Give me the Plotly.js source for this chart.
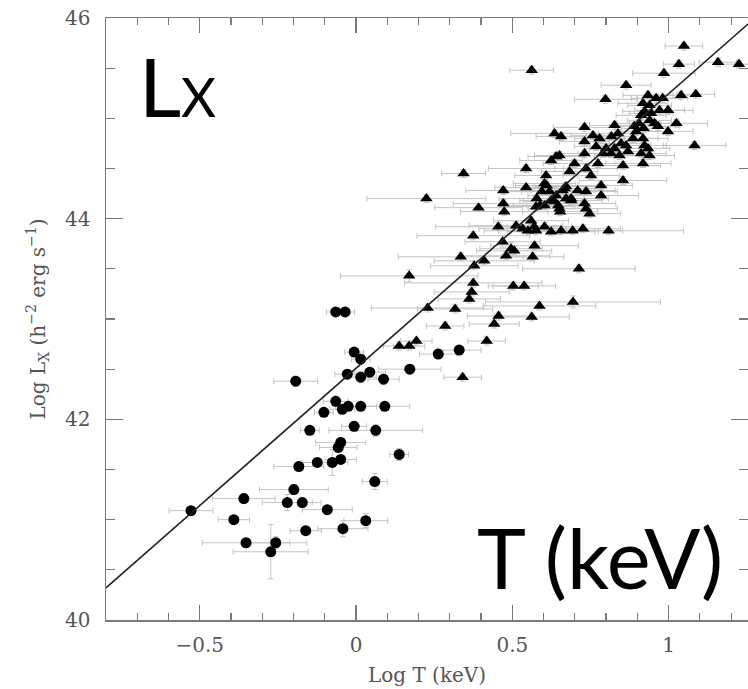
<!DOCTYPE html>
<html>
<head>
<meta charset="utf-8">
<script src="https://cdn.plot.ly/plotly-3.0.1.min.js"></script>
<style>html,body{margin:0;padding:0;background:#fff;}#chart{width:748px;height:689px;}</style>
</head>
<body>
<div id="chart"></div>
<script>
// ---- data ----
// Groups (circles): log T, log Lx, errors
var grpT  = [-0.528,-0.359,-0.391,-0.352,-0.273,-0.257,-0.220,-0.172,-0.199,-0.161,-0.183,-0.124,-0.148,-0.092,-0.076,-0.049,-0.049,-0.057,-0.042,0.031,0.060,0.138,-0.006,0.063,-0.103,-0.065,-0.044,-0.025,0.015,0.092,-0.193,-0.028,0.015,0.044,0.088,0.172,-0.006,0.015,0.263,0.330,-0.065,-0.035];
var grpL  = [41.09,41.21,41.00,40.77,40.68,40.77,41.17,41.17,41.30,40.89,41.53,41.57,41.89,41.10,41.57,41.60,41.77,41.72,40.91,40.99,41.38,41.65,41.93,41.89,42.07,42.18,42.10,42.13,42.13,42.13,42.38,42.45,42.42,42.47,42.40,42.50,42.67,42.60,42.65,42.69,43.07,43.07];
var grpTerr = [0.07,0.10,0.05,0.14,0.12,0.10,0.08,0.06,0.11,0.05,0.08,0.05,0.03,0.08,0.05,0.05,0.08,0.06,0.08,0.07,0.04,0.03,0.04,0.15,0.03,0.04,0.04,0.04,0.05,0.08,0.07,0.04,0.05,0.05,0.05,0.10,0.03,0.03,0.06,0.07,0.03,0.03];
var grpLerr = [0.04,0.05,0.04,0.04,0.27,0.06,0.08,0.05,0.05,0.04,0.04,0.04,0.03,0.04,0.13,0.04,0.05,0.05,0.08,0.07,0.08,0.06,0.05,0.06,0.04,0.05,0.04,0.04,0.04,0.04,0.05,0.04,0.05,0.04,0.05,0.04,0.04,0.04,0.04,0.04,0.03,0.03];

// Clusters (triangles): log T, log Lx, errors
var clT = [1.049,0.562,1.033,1.158,1.225,0.985,0.864,0.798,1.040,1.087,0.934,0.960,0.981,0.918,0.939,0.923,0.912,0.944,0.971,0.998,0.939,0.955,0.966,1.025,0.998,1.083,0.827,0.838,0.817,0.731,0.731,0.635,0.656,0.651,0.731,0.758,0.779,0.768,0.800,0.790,0.816,0.827,0.848,0.864,0.870,0.843,0.886,0.896,0.918,0.923,0.912,0.934,0.939,0.905,0.920,0.890,0.624,0.640,0.854,0.918,0.699,0.683,0.736,0.752,0.774,0.854,0.672,0.709,0.736,0.784,0.784,0.688,0.731,0.344,0.544,0.544,0.471,0.608,0.610,0.594,0.661,0.225,0.392,0.471,0.474,0.578,0.589,0.647,0.653,0.603,0.619,0.624,0.640,0.651,0.667,0.672,0.576,0.603,0.635,0.688,0.736,0.747,0.455,0.375,0.512,0.533,0.560,0.570,0.550,0.576,0.603,0.624,0.656,0.693,0.726,0.808,0.469,0.496,0.506,0.571,0.480,0.565,0.335,0.378,0.410,0.170,0.713,0.375,0.503,0.538,0.370,0.362,0.694,0.229,0.317,0.587,0.456,0.442,0.562,0.285,0.193,0.170,0.138,0.418,0.341];
var clL = [45.72,45.48,45.54,45.56,45.54,45.45,45.33,45.19,45.23,45.24,45.23,45.20,45.20,45.15,45.13,45.07,45.03,45.05,45.08,45.08,44.98,44.95,44.92,44.95,44.87,44.73,44.93,44.85,44.82,44.91,44.77,44.85,44.82,44.63,44.65,44.83,44.80,44.72,44.70,44.65,44.65,44.70,44.75,44.73,44.67,44.63,44.80,44.87,44.80,44.73,44.65,44.70,44.63,44.95,44.90,44.92,44.58,44.62,44.53,44.55,44.55,44.47,44.50,44.43,44.55,44.38,44.32,44.28,44.27,44.33,44.23,44.20,44.15,44.45,44.50,44.31,44.28,44.43,44.33,44.27,44.28,44.20,44.11,44.15,44.07,44.20,44.13,44.13,44.07,44.35,44.27,44.18,44.23,44.10,44.30,44.20,44.12,44.13,44.17,44.18,44.10,44.05,43.92,43.83,43.93,43.90,43.98,43.92,43.88,43.88,43.92,43.87,43.88,43.88,43.90,43.88,43.77,43.70,43.68,43.73,43.63,43.62,43.62,43.53,43.58,43.43,43.50,43.36,43.33,43.33,43.27,43.20,43.17,43.11,43.10,43.13,43.03,42.95,43.02,42.93,42.78,42.73,42.73,42.78,42.42];
var clTerr = [0.06,0.07,0.05,0.06,0.06,0.10,0.08,0.10,0.06,0.06,0.08,0.08,0.08,0.08,0.07,0.07,0.08,0.07,0.08,0.08,0.07,0.08,0.07,0.10,0.08,0.10,0.08,0.08,0.08,0.10,0.08,0.14,0.08,0.08,0.08,0.07,0.08,0.07,0.07,0.08,0.07,0.08,0.07,0.08,0.07,0.08,0.08,0.07,0.08,0.07,0.08,0.07,0.08,0.07,0.07,0.08,0.10,0.09,0.12,0.09,0.10,0.09,0.10,0.09,0.08,0.14,0.10,0.12,0.10,0.10,0.12,0.12,0.10,0.07,0.12,0.10,0.12,0.10,0.10,0.12,0.10,0.19,0.14,0.16,0.14,0.12,0.12,0.10,0.12,0.10,0.09,0.10,0.09,0.10,0.10,0.10,0.12,0.10,0.10,0.10,0.10,0.10,0.20,0.18,0.15,0.14,0.12,0.12,0.14,0.12,0.12,0.14,0.12,0.16,0.12,0.24,0.12,0.10,0.12,0.14,0.14,0.10,0.20,0.14,0.16,0.22,0.18,0.22,0.08,0.10,0.12,0.10,0.28,0.18,0.12,0.18,0.10,0.08,0.12,0.06,0.05,0.05,0.05,0.06,0.06];
var clLerr = [0.04,0.04,0.04,0.04,0.04,0.04,0.04,0.04,0.04,0.04,0.04,0.04,0.04,0.04,0.04,0.04,0.04,0.04,0.04,0.04,0.04,0.04,0.04,0.04,0.04,0.04,0.04,0.04,0.04,0.04,0.04,0.04,0.04,0.04,0.04,0.04,0.04,0.04,0.04,0.04,0.04,0.04,0.04,0.04,0.04,0.04,0.04,0.04,0.04,0.04,0.04,0.04,0.04,0.04,0.04,0.04,0.04,0.04,0.04,0.04,0.04,0.04,0.04,0.04,0.04,0.04,0.04,0.04,0.04,0.04,0.04,0.04,0.04,0.04,0.04,0.04,0.04,0.04,0.04,0.04,0.04,0.04,0.04,0.04,0.04,0.04,0.04,0.04,0.04,0.04,0.04,0.04,0.04,0.04,0.04,0.04,0.04,0.04,0.04,0.04,0.04,0.04,0.04,0.04,0.04,0.04,0.04,0.04,0.04,0.04,0.04,0.04,0.04,0.04,0.04,0.04,0.06,0.06,0.04,0.04,0.04,0.04,0.04,0.04,0.04,0.06,0.04,0.04,0.04,0.04,0.04,0.04,0.06,0.04,0.04,0.04,0.04,0.04,0.04,0.04,0.04,0.04,0.04,0.04,0.04];

// Fit line end points
var fitT = [-0.8, 1.254];
var fitL = [40.32, 45.94];

// Tick labels
var xTickVals = [-0.5, 0, 0.5, 1];
var xTickText = ['\u22120.5', '0', '0.5', '1'];
var yTickVals = [40, 42, 44, 46];
var yTickText = ['40', '42', '44', '46'];

var errColor = '#c4c4c4';
var traces = [
  {x: grpT, y: grpL, type: 'scatter', mode: 'markers',
   marker: {symbol: 'circle', size: 11, color: '#000'},
   error_x: {type: 'data', array: grpTerr, color: errColor, thickness: 1, width: 3},
   error_y: {type: 'data', array: grpLerr, color: errColor, thickness: 1, width: 3}},
  {x: clT, y: clL, type: 'scatter', mode: 'markers',
   marker: {symbol: 'triangle-up', size: 11, color: '#000'},
   error_x: {type: 'data', array: clTerr, color: errColor, thickness: 1, width: 3},
   error_y: {type: 'data', array: clLerr, color: errColor, thickness: 1, width: 3}},
  {x: fitT, y: fitL, type: 'scatter', mode: 'lines',
   line: {color: '#222', width: 1.6}}
];

var axColor = '#7a7a7a';
var tickFont = {family: 'DejaVu Serif', size: 20, color: '#555'};
var layout = {
  width: 748, height: 689,
  margin: {l: 106, r: 0, t: 18, b: 69},
  paper_bgcolor: '#fff', plot_bgcolor: '#fff',
  showlegend: false,
  xaxis: {
    range: [-0.8, 1.254], tickmode: 'array', tickvals: xTickVals, ticktext: xTickText,
    ticks: 'inside', ticklen: 15, tickwidth: 1.2, tickcolor: axColor,
    showline: true, linecolor: axColor, linewidth: 1.5, mirror: 'ticks',
    showgrid: false, zeroline: false,
    minor: {ticks: 'inside', ticklen: 7, tickwidth: 1.2, tickcolor: axColor, dtick: 0.1, tick0: 0, showgrid: false},
    tickfont: tickFont, ticklabelstandoff: 6,
    title: {text: 'Log T (keV)', font: {family: 'DejaVu Serif', size: 20, color: '#555'}, standoff: 12},
    automargin: false
  },
  yaxis: {
    range: [40, 46], tickmode: 'array', tickvals: yTickVals, ticktext: yTickText,
    ticks: 'inside', ticklen: 17, tickwidth: 1.2, tickcolor: axColor,
    showline: true, linecolor: axColor, linewidth: 1.5, mirror: 'ticks',
    showgrid: false, zeroline: false,
    minor: {ticks: 'inside', ticklen: 9, tickwidth: 1.2, tickcolor: axColor, dtick: 0.5, tick0: 40, showgrid: false},
    tickfont: tickFont, ticklabelstandoff: 10,
    title: {text: 'Log L<sub>X</sub> (h<sup>\u22122</sup> erg s<sup>\u22121</sup>)', font: {family: 'DejaVu Serif', size: 20, color: '#555'}, standoff: 14},
    automargin: false
  },
  annotations: [
    {text: 'L<span style="font-size:54px">X</span>', xref: 'paper', yref: 'paper',
     x: 0.048, y: 0.888, xanchor: 'left', yanchor: 'middle', showarrow: false,
     font: {family: 'Lato', size: 82, color: '#000'}},
    {text: 'T (keV)', xref: 'paper', yref: 'paper',
     x: 0.575, y: 0.104, xanchor: 'left', yanchor: 'middle', showarrow: false,
     font: {family: 'Lato', size: 83, color: '#000'}}
  ]
};
Plotly.newPlot('chart', traces, layout, {displayModeBar: false, staticPlot: true});
</script>
</body>
</html>
